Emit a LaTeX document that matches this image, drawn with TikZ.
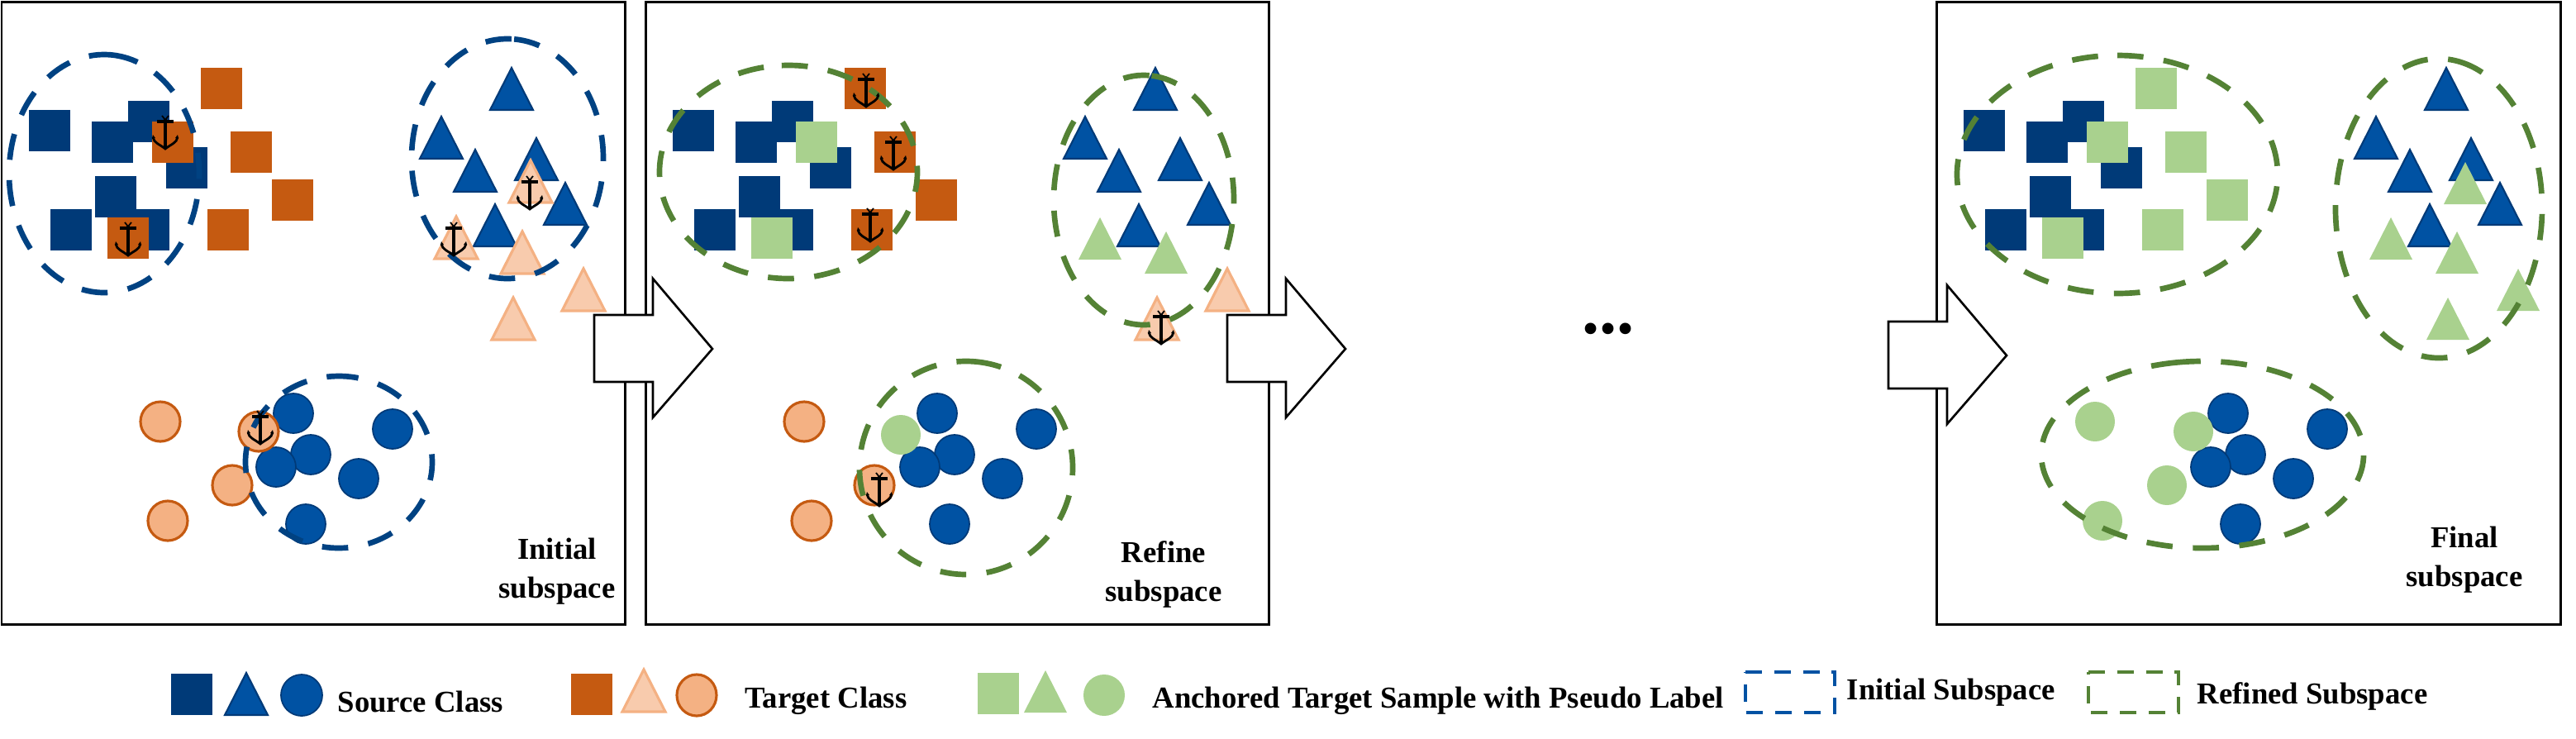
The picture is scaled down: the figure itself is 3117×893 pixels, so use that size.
\documentclass[tikz,border=0pt]{standalone}
\usepackage{fontspec}
\setmainfont{Liberation Serif}
\usepackage{tikz}

\definecolor{navysq}{HTML}{003A78}
\definecolor{bluefill}{HTML}{0052A3}
\definecolor{bluedash}{HTML}{004282}
\definecolor{orangesq}{HTML}{C55A11}
\definecolor{peachtri}{HTML}{F8CBAD}
\definecolor{peachline}{HTML}{F4B183}
\definecolor{greenfill}{HTML}{A9D18E}
\definecolor{greendash}{HTML}{548235}

\tikzset{
  srcsq/.style={fill=navysq},
  srctri/.style={fill=bluefill,draw=navysq,line width=0.6pt,line join=miter},
  srccirc/.style={fill=bluefill,draw=navysq,line width=0.5pt},
  tgtsq/.style={fill=orangesq},
  tgttri/.style={fill=peachtri,draw=peachline,line width=0.9pt},
  tgtcirc/.style={fill=peachline,draw=orangesq,line width=0.9pt},
  ancsq/.style={fill=greenfill},
  anctri/.style={fill=greenfill},
  anccirc/.style={fill=greenfill},
  frame/.style={draw=black,line width=0.85pt},
  stepshaft/.style={draw=black,fill=white,line width=0.75pt},
  initdash/.style={draw=bluedash,line width=1.9pt,dash pattern=on 9pt off 7pt},
  refdash/.style={draw=greendash,line width=1.9pt,dash pattern=on 9pt off 7pt},
  legdash/.style={line width=1.15pt,dash pattern=on 5.7pt off 4.2pt},
  caption/.style={font=\fontsize{10.45}{13.4}\selectfont\bfseries,align=center,inner sep=0pt},
  pics/anchormark/.style={code={
    \draw[black,line width=1.1pt] (0,-16) -- (0,18);
    \draw[black,line width=1.1pt] (-10,-13) -- (10,-13);
    \draw[black,line width=0.5pt] (-4,-20) -- (0,-15) -- (4,-20);
    \draw[black,line width=0.8pt] (-15,6) .. controls (-14,13) and (-6,15) .. (0,20)
      .. controls (6,15) and (14,13) .. (15,6);
    \fill[black] (-16,7) -- (-15,3) -- (-12,7) -- cycle;
    \fill[black] (16,7) -- (15,3) -- (12,7) -- cycle;
  }}
}

% size of one square and one triangle, in pixels of the reference
\newcommand{\sqat}[3]{\fill[#1] (#2-25,#3-25) rectangle ++(50,50);}
\newcommand{\triat}[3]{\path[#1] (#2,#3-51) -- (#2+26,#3) -- (#2-26,#3) -- cycle;}
\newcommand{\circat}[3]{\path[#1] (#2,#3) ellipse [x radius=24,y radius=24];}
\newcommand{\subspace}[6]{\draw[#1] (#2,#3) ++(#6:#4 and #5)
  arc [start angle=#6,delta angle=360,x radius=#4,y radius=#5];}

% the samples of the source class stay the same in every panel
\newcommand{\sourcesamples}{
  \foreach \x/\y in {60/158,136/172,180/147,226/203,140/238,86/278,180/278}
    {\sqat{srcsq}{\x}{\y}}
  \foreach \x/\y in {619/133,534/192,575/232,649/218,684/272,599/298}
    {\triat{srctri}{\x}{\y}}
  \foreach \x/\y in {355/500,376/550,334/565,475/519,434/579,370/634}
    {\circat{srccirc}{\x}{\y}}
}

\begin{document}
\begin{tikzpicture}[x=0.01cm,y=-0.01cm]

\useasboundingbox (0,0) rectangle (3117,893);

% Panels
\draw[frame] (2,2) rectangle (756,755);
\draw[frame] (781,2) rectangle (1535,755);
\draw[frame] (2343,2) rectangle (3098,755);

% First panel
\sourcesamples
\foreach \x/\y in {209/172,155/288,268/107,304/184,354/242,276/278}
  {\sqat{tgtsq}{\x}{\y}}
\foreach \x/\y in {642/245,552/313,632/331,706/376,621/411}
  {\triat{tgttri}{\x}{\y}}
\foreach \x/\y in {194/510,313/522,281/587,203/630}
  {\circat{tgtcirc}{\x}{\y}}
\subspace{initdash}{126}{210}{115}{144}{275}
\subspace{initdash}{614}{192}{116}{145}{274}
\subspace{initdash}{410}{559}{113}{104}{266}
\foreach \x/\y in {200/160,155/289,641/233,549/289,315/517}
  {\pic at (\x,\y) {anchormark};}
\node[caption] (capinit) at (674,691) {Initial\\subspace};

% Second panel
\begin{scope}[shift={(779,0)}]
  \sourcesamples
  \foreach \x/\y in {268/107,304/184,354/242,276/278}
    {\sqat{tgtsq}{\x}{\y}}
  \foreach \x/\y in {209/172,155/288}
    {\sqat{ancsq}{\x}{\y}}
  \foreach \x/\y in {552/314,632/331}
    {\triat{anctri}{\x}{\y}}
  \foreach \x/\y in {706/376,621/411}
    {\triat{tgttri}{\x}{\y}}
  \foreach \x/\y in {194/510,279/587,203/630}
    {\circat{tgtcirc}{\x}{\y}}
  \circat{anccirc}{311}{526}
  \subspace{refdash}{175}{208}{156}{129}{267}
  \subspace{refdash}{605}{242}{109}{151}{275}
  \subspace{refdash}{390}{566}{129}{129}{275}
  \foreach \x/\y in {269/109,302/185,274/272,626/396,285/592}
    {\pic at (\x,\y) {anchormark};}
  \node[caption] (caprefine) at (629,695) {Refine\\subspace};
\end{scope}

% Third panel
\begin{scope}[shift={(2341,0)}]
  \sourcesamples
  \foreach \x/\y in {209/172,155/288,268/107,304/184,354/242,276/278}
    {\sqat{ancsq}{\x}{\y}}
  \foreach \x/\y in {642/247,552/314,632/331,706/376,621/411}
    {\triat{anctri}{\x}{\y}}
  \foreach \x/\y in {194/510,313/522,281/587,203/630}
    {\circat{anccirc}{\x}{\y}}
  \subspace{refdash}{221}{211}{194}{144}{270}
  \subspace{refdash}{610}{252}{125}{181}{281}
  \subspace{refdash}{324}{550}{195}{113}{260}
  \node[caption] (capfinal) at (641,677) {Final\\subspace};
\end{scope}

% Arrows between the panels
\foreach \x/\y in {719/381,1485/381,2285/389}
  \draw[stepshaft] (\x,\y) -- ++(71,0) -- ++(0,-44) -- ++(72,85) -- ++(-72,83)
    -- ++(0,-43) -- ++(-71,0) -- cycle;
\node[font=\fontsize{24}{24}\selectfont\bfseries,inner sep=0pt] (dots) at (1946,398) {...};

% Legend
\sqat{srcsq}{232}{840}
\triat{srctri}{298}{865}
\path[srccirc] (365,841) ellipse [x radius=25,y radius=25];
\node[caption,anchor=west] (legsource) at (408,849) {Source Class};

\sqat{tgtsq}{716}{840}
\triat{tgttri}{779}{861}
\path[tgtcirc] (843,841) ellipse [x radius=24,y radius=25];
\node[caption,anchor=west] (legtarget) at (901,848) {Target Class};

\sqat{ancsq}{1208}{839}
\triat{anctri}{1265}{862}
\path[anccirc] (1336,841) ellipse [x radius=25,y radius=25];
\node[caption,anchor=west] (leganchor) at (1394,848) {Anchored Target Sample with Pseudo Label};

\draw[legdash,draw=bluefill] (2112,813) -- (2220,813) -- (2220,862) -- (2112,862) -- cycle;
\node[caption,anchor=west] (leginit) at (2234,838) {Initial Subspace};
\draw[legdash,draw=greendash] (2527,813) -- (2636,813) -- (2636,862) -- (2527,862) -- cycle;
\node[caption,anchor=west] (legref) at (2658,842) {Refined Subspace};

\end{tikzpicture}
\end{document}
